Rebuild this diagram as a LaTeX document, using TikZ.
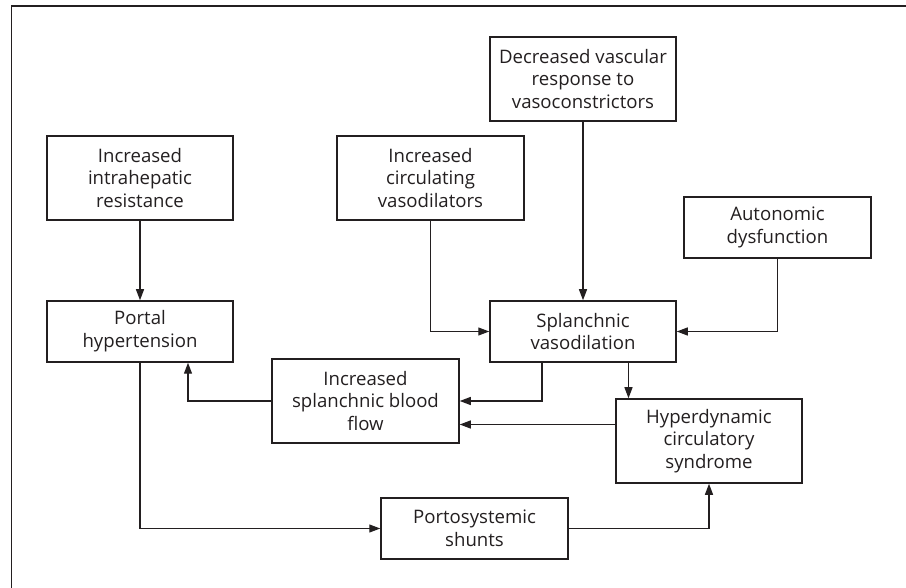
\documentclass[tikz,border=0pt]{standalone}
\usepackage{fontspec}
\setmainfont{Open Sans}
\usetikzlibrary{arrows.meta}
\definecolor{ink}{HTML}{231F20}
\begin{document}
\begin{tikzpicture}[x=1pt,y=-1pt,
  box/.style={draw=ink,line width=1.5pt,fill=white,align=center,inner sep=0pt,text=ink,
    font=\fontsize{18.6}{22.7}\selectfont},
  conn/.style={draw=ink,line width=1.3pt,-{Triangle[length=11pt,width=8pt]}}]
\useasboundingbox (0,0) rectangle (906,588);
\draw[line width=1.3pt,ink] (11.5,600) -- (11.5,6) -- (920,6);
\node[box,minimum width=186pt,minimum height=84pt] (dec) at (583,79) {Decreased vascular\\response to\\vasoconstrictors};
\node[box,minimum width=186pt,minimum height=84pt] (ihr) at (140,178) {Increased\\intrahepatic\\resistance};
\node[box,minimum width=187pt,minimum height=84pt] (cv) at (430.5,178) {Increased\\circulating\\vasodilators};
\node[box,minimum width=187pt,minimum height=61pt] (aut) at (777.5,227.5) {Autonomic\\dysfunction};
\node[box,minimum width=186pt,minimum height=61pt] (ph) at (140,331.5) {Portal\\hypertension};
\node[box,minimum width=186pt,minimum height=61pt] (sv) at (583,331.5) {Splanchnic\\vasodilation};
\node[box,minimum width=187pt,minimum height=84pt] (bf) at (365.5,401) {Increased\\splanchnic blood\\flow};
\node[box,minimum width=186pt,minimum height=84pt] (hd) at (709,441) {Hyperdynamic\\circulatory\\syndrome};
\node[box,minimum width=187pt,minimum height=61pt] (ps) at (474.5,528.5) {Portosystemic\\shunts};
\draw[conn] (ihr) -- (ph);
\draw[conn] (dec) -- (sv);
\draw[conn] (cv.south) |- (sv.west);
\draw[conn] (aut.south) |- (sv.east);
\draw[conn] (sv.south -| 542,0) |- (bf.east |- 0,401);
\draw[conn] (sv.south -| 628.5,0) -- (hd.north -| 628.5,0);
\draw[conn] (hd.west |- 0,424.5) -- (bf.east |- 0,424.5);
\draw[conn] (bf.west) -| (ph.south -| 188,0);
\draw[conn] (ph.south) |- (ps.west);
\draw[conn] (ps.east) -| (hd.south);
\end{tikzpicture}
\end{document}
